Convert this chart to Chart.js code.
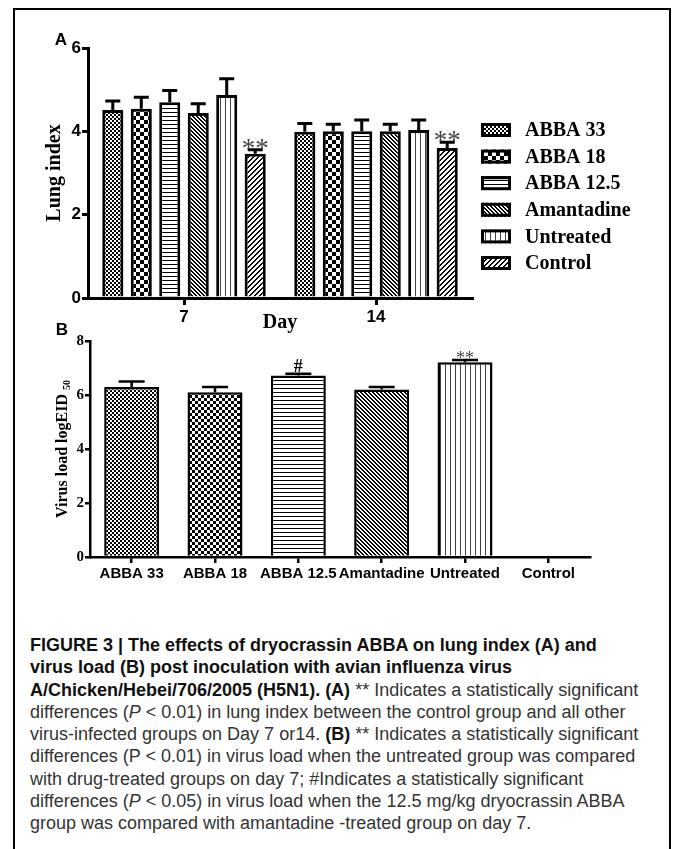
<!DOCTYPE html>
<html lang="en">
<head>
<meta charset="UTF-8">
<title>Figure 3 - dryocrassin ABBA</title>
<script src="https://cdn.jsdelivr.net/npm/chart.js"></script>
<style>
  html, body { margin: 0; padding: 0; background: #fff; overflow: hidden; }
  #frame { position: absolute; left: 13px; top: 8px; width: 654px; height: 870px; border: 2px solid #000; }
  #chartA { position: absolute; left: 0; top: 0; }
  #chartB { position: absolute; left: 0; top: 320px; }
  #caption { position: absolute; left: 30px; top: 634px; font-family: "Liberation Sans", Arial, sans-serif;
             font-size: 18px; line-height: 22.3px; color: #333; white-space: nowrap; }
  #caption b { color: #111; }
</style>
</head>
<body>
<div id="frame"></div>
<canvas id="chartA" width="673" height="345"></canvas>
<canvas id="chartB" width="673" height="290"></canvas>

<div id="caption">
  <div><b>FIGURE 3 | The effects of dryocrassin ABBA on lung index (A) and</b></div>
  <div><b>virus load (B) post inoculation with avian influenza virus</b></div>
  <div><b>A/Chicken/Hebei/706/2005 (H5N1). (A)</b> ** Indicates a statistically significant</div>
  <div>differences (<i>P</i> &lt; 0.01) in lung index between the control group and all other</div>
  <div>virus-infected groups on Day 7 or14. <b>(B)</b> ** Indicates a statistically significant</div>
  <div>differences (P &lt; 0.01) in virus load when the untreated group was compared</div>
  <div>with drug-treated groups on day 7; #Indicates a statistically significant</div>
  <div>differences (<i>P</i> &lt; 0.05) in virus load when the 12.5 mg/kg dryocrassin ABBA</div>
  <div>group was compared with amantadine -treated group on day 7.</div>
</div>

<script>
// --- data ---
const days = ['7', '14'];
const groups = ['ABBA 33', 'ABBA 18', 'ABBA 12.5', 'Amantadine', 'Untreated', 'Control'];

// panel A: lung index
const lungDay7 = [4.51, 4.54, 4.70, 4.44, 4.87, 3.46];
const lungDay7Err = [0.22, 0.28, 0.28, 0.22, 0.39, 0.10];
const lungDay14 = [3.99, 4.00, 4.00, 4.00, 4.03, 3.60];
const lungDay14Err = [0.20, 0.17, 0.27, 0.17, 0.24, 0.14];
const lungMarks = ['', '', '', '', '', '**'];
const lungTicks = [0, 2, 4, 6];

// panel B: virus load on day 7
const virusLoad = [6.30, 6.10, 6.72, 6.20, 7.21, null];
const virusErr = [0.20, 0.20, 0.07, 0.10, 0.09, null];
const virusMarks = ['', '', '#', '', '**', ''];
const virusTicks = [0, 2, 4, 6, 8];

const SERIF = '"Liberation Serif", "Times New Roman", serif';
const SANS = '"Liberation Sans", Arial, sans-serif';

// fill patterns like the GraphPad hatches
function makePattern(kind, size) {
    const c = document.createElement('canvas');
    c.width = c.height = size;
    const g = c.getContext('2d');
    g.fillStyle = '#fff';
    g.fillRect(0, 0, size, size);
    g.fillStyle = '#000';
    const h = size / 2;
    if (kind === 'check') {
        g.fillRect(0, 0, h, h);
        g.fillRect(h, h, h, h);
    } else if (kind === 'hline') {
        g.fillRect(0, 0, size, 1);
    } else if (kind === 'vline') {
        g.fillStyle = '#444';
        g.fillRect(0, 0, 1, size);
    } else if (kind === 'back') {
        for (let i = 0; i < size; i++) {
            g.fillRect(i, i, 1, 1);
            g.fillRect((i + 1) % size, i, 1, 1);
        }
    } else if (kind === 'fwd') {
        for (let i = 0; i < size; i++) {
            g.fillRect(size - 1 - i, i, 1, 1);
            g.fillRect((size - i) % size, i, 1, 1);
        }
    }
    return g.createPattern(c, 'repeat');
}
const patternsA = [makePattern('check', 4), makePattern('check', 8), makePattern('hline', 4),
                   makePattern('back', 4), makePattern('vline', 5), makePattern('fwd', 5)];
const patternsB = [makePattern('check', 4), makePattern('check', 6), makePattern('hline', 4),
                   makePattern('back', 4), makePattern('vline', 5), makePattern('fwd', 5)];

// error bars (upper only) from the y scale
const errorBarsPlugin = {
    id: 'errorBars',
    afterDatasetsDraw(chart, args, opts) {
        const ctx = chart.ctx, y = chart.scales.y;
        ctx.save();
        ctx.strokeStyle = '#000';
        ctx.lineWidth = opts.width;
        chart.data.datasets.forEach((ds, i) => {
            chart.getDatasetMeta(i).data.forEach((bar, j) => {
                const v = ds.data[j], e = ds.errors[j];
                if (v == null || e == null) return;
                const top = y.getPixelForValue(v + e);
                ctx.beginPath();
                ctx.moveTo(bar.x, bar.y);
                ctx.lineTo(bar.x, top);
                ctx.moveTo(bar.x - opts.cap / 2, top);
                ctx.lineTo(bar.x + opts.cap / 2, top);
                ctx.stroke();
            });
        });
        ctx.restore();
    }
};

// significance marks above the error bars
const marksPlugin = {
    id: 'sigMarks',
    afterDatasetsDraw(chart, args, opts) {
        const ctx = chart.ctx, y = chart.scales.y;
        ctx.save();
        ctx.textAlign = 'center';
        ctx.textBaseline = 'alphabetic';
        chart.data.datasets.forEach((ds, i) => {
            chart.getDatasetMeta(i).data.forEach((bar, j) => {
                const m = ds.marks[j];
                if (!m) return;
                ctx.font = m === '#' ? opts.hashFont : opts.starFont;
                ctx.fillStyle = m === '#' ? '#000' : '#444';
                const d = ctx.measureText(m).actualBoundingBoxDescent;
                const top = y.getPixelForValue(ds.data[j] + ds.errors[j]);
                ctx.fillText(m, bar.x, top - opts.gap - d);
            });
        });
        ctx.restore();
    }
};

// legend on the right of panel A
const sideLegendPlugin = {
    id: 'sideLegend',
    afterDraw(chart) {
        const ctx = chart.ctx, a = chart.chartArea;
        const x0 = a.right + 9, y0 = 130, step = 26.6;
        ctx.save();
        ctx.font = 'bold 20px ' + SERIF;
        ctx.textBaseline = 'middle';
        chart.data.datasets.forEach((ds, i) => {
            const yc = y0 + i * step;
            ctx.fillStyle = ds.backgroundColor;
            ctx.fillRect(x0, yc - 7, 30, 14);
            ctx.lineWidth = 3;
            ctx.strokeStyle = '#000';
            ctx.strokeRect(x0 + 1.5, yc - 5.5, 27, 11);
            ctx.fillStyle = '#000';
            ctx.fillText(ds.label, x0 + 44, yc + 1);
        });
        ctx.restore();
    }
};

// panel letter, axis titles
const panelTextPlugin = {
    id: 'panelText',
    afterDraw(chart, args, opts) {
        const ctx = chart.ctx, a = chart.chartArea;
        ctx.save();
        ctx.fillStyle = '#000';
        ctx.textAlign = 'center';
        ctx.textBaseline = 'middle';
        ctx.font = 'bold 17px ' + SANS;
        ctx.fillText(opts.letter, a.left + opts.letterDx, a.top + opts.letterDy);

        if (opts.xTitle) {
            ctx.font = 'bold 20px ' + SERIF;
            ctx.fillText(opts.xTitle, (a.left + a.right) / 2, a.bottom + opts.xTitleDy);
        }

        ctx.translate(a.left + opts.yTitleDx, (a.top + a.bottom) / 2);
        ctx.rotate(-Math.PI / 2);
        ctx.font = opts.yTitleFont;
        const w1 = ctx.measureText(opts.yTitle).width;
        let w2 = 0;
        if (opts.ySub) {
            ctx.font = opts.ySubFont;
            w2 = ctx.measureText(opts.ySub).width + 4;
        }
        const start = -(w1 + w2) / 2;
        ctx.textAlign = 'left';
        ctx.font = opts.yTitleFont;
        ctx.fillText(opts.yTitle, start, 0);
        if (opts.ySub) {
            ctx.font = opts.ySubFont;
            ctx.fillText(opts.ySub, start + w1 + 4, 4);
        }
        ctx.restore();
    }
};

function axisStyle(width, tickLen) {
    return {
        grid: { display: true, drawOnChartArea: false, offset: false, color: '#000', lineWidth: width, tickLength: tickLen },
        border: { display: true, color: '#000', width: width }
    };
}

// Panel A
new Chart(document.getElementById('chartA'), {
    type: 'bar',
    data: {
        labels: days,
        datasets: groups.map((g, i) => ({
            label: g,
            data: [lungDay7[i], lungDay14[i]],
            errors: [lungDay7Err[i], lungDay14Err[i]],
            marks: [lungMarks[i], lungMarks[i]],
            backgroundColor: patternsA[i],
            borderColor: '#000',
            borderWidth: 3,
            borderSkipped: 'bottom',
            categoryPercentage: 0.89,
            barPercentage: 0.74
        }))
    },
    options: {
        responsive: false,
        animation: false,
        devicePixelRatio: 1,
        layout: { padding: { left: 48, right: 201, top: 48, bottom: 7 } },
        plugins: {
            legend: { display: false },
            tooltip: { enabled: false },
            errorBars: { cap: 15, width: 3 },
            sigMarks: { starFont: '27px ' + SERIF, hashFont: 'bold 18px ' + SERIF, gap: 0 },
            panelText: { letter: 'A', letterDx: -27, letterDy: -8, xTitle: 'Day', xTitleDy: 25,
                         yTitle: 'Lung index', yTitleFont: 'bold 20px ' + SERIF, yTitleDx: -33 }
        },
        scales: {
            x: Object.assign(axisStyle(3, 7), {
                ticks: { color: '#000', padding: 2, font: { family: SANS, size: 17, weight: 'bold' } },
                afterFit: s => { s.height = 40; }
            }),
            y: Object.assign(axisStyle(3, 6), {
                min: lungTicks[0],
                max: lungTicks[lungTicks.length - 1],
                afterBuildTicks: s => { s.ticks = lungTicks.map(v => ({ value: v })); },
                ticks: { color: '#000', padding: 1, font: { family: SANS, size: 17, weight: 'bold' } },
                afterFit: s => { s.width = 40; }
            })
        }
    },
    plugins: [errorBarsPlugin, marksPlugin, sideLegendPlugin, panelTextPlugin]
});

// Panel B
new Chart(document.getElementById('chartB'), {
    type: 'bar',
    data: {
        labels: groups,
        datasets: [{
            label: 'Virus load',
            data: virusLoad,
            errors: virusErr,
            marks: virusMarks,
            backgroundColor: patternsB,
            borderColor: '#000',
            borderWidth: 2.5,
            borderSkipped: 'bottom',
            categoryPercentage: 1,
            barPercentage: 0.66
        }]
    },
    options: {
        responsive: false,
        animation: false,
        devicePixelRatio: 1,
        layout: { padding: { left: 60, right: 83, top: 21, bottom: 18 } },
        plugins: {
            legend: { display: false },
            tooltip: { enabled: false },
            errorBars: { cap: 26, width: 2.5 },
            sigMarks: { starFont: '18px ' + SERIF, hashFont: 'bold 18px ' + SERIF, gap: 2 },
            panelText: { letter: 'B', letterDx: -28, letterDy: -11,
                         yTitle: 'Virus load logEID', ySub: '50', yTitleFont: 'bold 16px ' + SERIF,
                         ySubFont: 'bold 10px ' + SERIF, yTitleDx: -27 }
        },
        scales: {
            x: Object.assign(axisStyle(2.5, 6), {
                ticks: { color: '#000', padding: 2, autoSkip: false, maxRotation: 0,
                         font: { family: SANS, size: 15, weight: 'bold' } },
                afterFit: s => { s.height = 35; }
            }),
            y: Object.assign(axisStyle(2.5, 5), {
                min: virusTicks[0],
                max: virusTicks[virusTicks.length - 1],
                afterBuildTicks: s => { s.ticks = virusTicks.map(v => ({ value: v })); },
                ticks: { color: '#000', padding: 1, font: { family: SERIF, size: 15, weight: 'bold' } },
                afterFit: s => { s.width = 30; }
            })
        }
    },
    plugins: [errorBarsPlugin, marksPlugin, panelTextPlugin]
});
</script>
</body>
</html>
